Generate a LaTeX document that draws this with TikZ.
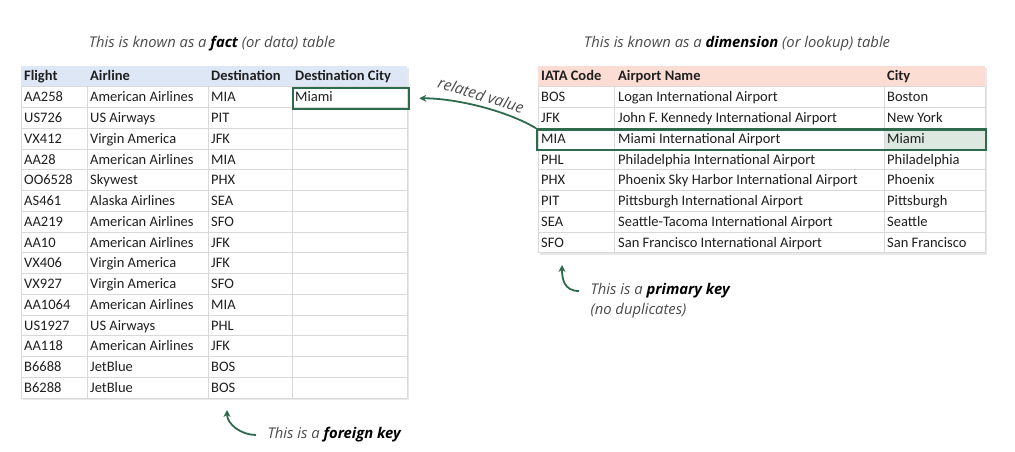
\documentclass[tikz,border=0pt]{standalone}
\usepackage{fontspec}
\setmainfont{Carlito}
\newfontfamily\capfont{Open Sans}
\usetikzlibrary{positioning,calc,shadows,arrows.meta}

\definecolor{keygreen}{HTML}{2E6A4C}
\definecolor{headblue}{HTML}{DDE7F5}
\definecolor{headpink}{HTML}{FBDDD3}
\definecolor{gridgray}{HTML}{D9D9D9}
\definecolor{capgray}{HTML}{4A4A4A}
\definecolor{citygreen}{HTML}{DDE8E1}

\tikzset{
  cell/.style={anchor=base west, inner sep=0pt, font=\fontsize{14.5}{15}\selectfont, text=black!88},
  headcell/.style={cell, font=\fontsize{14.5}{15}\selectfont\bfseries},
  caption/.style={font=\capfont\itshape\fontsize{14.8}{17}\selectfont, text=capgray},
  gridline/.style={draw=gridgray, line width=0.8pt},
  keybox/.style={draw=keygreen, line width=2.3pt, inner sep=0pt, anchor=north west},
  keyarrow/.style={draw=keygreen, line width=1.8pt, -{Stealth[length=7pt,width=7pt]}},
  tableshadow/.style={drop shadow={opacity=0.18, shadow xshift=1.5pt, shadow yshift=-2pt}},
}

\begin{document}
\begin{tikzpicture}[x=1pt,y=-1pt]
  \useasboundingbox (0,0) rectangle (1015,452);

  % fact table
  \node[caption] (factcap) at (212,44) {This is known as a {\color{black}\bfseries fact} (or data) table};

  \fill[white, tableshadow] (21,66) rectangle (407,398);
  \fill[headblue] (21,66) rectangle (407,86.75);
  \foreach \r in {1,...,16}
    \draw[gridline] (21,{66+20.75*\r}) -- (407,{66+20.75*\r});
  \foreach \x in {21,87,208,292,407}
    \draw[gridline] (\x,86.75) -- (\x,398);

  \node[headcell] (fhead-1) at (24,81) {Flight};
  \node[headcell] (fhead-2) at (90,81) {Airline};
  \node[headcell] (fhead-3) at (211,81) {Destination};
  \node[headcell] (fhead-4) at (295,81) {Destination City};

  \foreach \fl/\al/\de [count=\i] in {AA258/American Airlines/MIA, US726/US Airways/PIT,
      VX412/Virgin America/JFK, AA28/American Airlines/MIA, OO6528/Skywest/PHX,
      AS461/Alaska Airlines/SEA, AA219/American Airlines/SFO, AA10/American Airlines/JFK,
      VX406/Virgin America/JFK, VX927/Virgin America/SFO, AA1064/American Airlines/MIA,
      US1927/US Airways/PHL, AA118/American Airlines/JFK, B6688/JetBlue/BOS, B6288/JetBlue/BOS}
  {
    \node[cell] (flight-\i) at (24,{81+20.75*\i}) {\fl};
    \node[cell] (airline-\i) at (90,{81+20.75*\i}) {\al};
    \node[cell] (dest-\i) at (211,{81+20.75*\i}) {\de};
  }
  \node[cell] (destcity-1) at (295,101.75) {Miami};
  \node[keybox, minimum width=116pt, minimum height=20.75pt] (citybox) at (292,86.75) {};

  % dimension table
  \node[caption] (dimcap) at (737,44) {This is known as a {\color{black}\bfseries dimension} (or lookup) table};

  \fill[white, tableshadow] (538,66) rectangle (985,252.75);
  \fill[headpink] (538,66) rectangle (985,86.75);
  \fill[citygreen] (884,128.25) rectangle (985,149);
  \foreach \r in {1,...,9}
    \draw[gridline] (538,{66+20.75*\r}) -- (985,{66+20.75*\r});
  \foreach \x in {538,614,884,985}
    \draw[gridline] (\x,86.75) -- (\x,252.75);

  \node[headcell] (ahead-1) at (541,81) {IATA Code};
  \node[headcell] (ahead-2) at (618,81) {Airport Name};
  \node[headcell] (ahead-3) at (887,81) {City};

  \foreach \co/\ap/\ci [count=\i] in {BOS/Logan International Airport/Boston,
      JFK/John F. Kennedy International Airport/New York,
      MIA/Miami International Airport/Miami,
      PHL/Philadelphia International Airport/Philadelphia,
      PHX/Phoenix Sky Harbor International Airport/Phoenix,
      PIT/Pittsburgh International Airport/Pittsburgh,
      SEA/Seattle-Tacoma International Airport/Seattle,
      SFO/San Francisco International Airport/San Francisco}
  {
    \node[cell] (code-\i) at (541,{81+20.75*\i}) {\co};
    \node[cell] (airport-\i) at (618,{81+20.75*\i}) {\ap};
    \node[cell] (city-\i) at (887,{81+20.75*\i}) {\ci};
  }
  \node[keybox, minimum width=449pt, minimum height=20.75pt] (miarow) at (536,128.25) {};

  % related value
  \node[caption, rotate=-17, inner sep=0pt, font=\capfont\itshape\fontsize{15.5}{17}\selectfont] (relval) at (481,95) {related value};
  \draw[keyarrow, shorten >=9pt] (miarow.north west) .. controls +(-30,-18) and +(45,0) .. (citybox.east);

  % keys
  \node[caption, anchor=west] (pkcap) at (587,291) {This is a {\color{black}\bfseries primary key}};
  \node[caption, anchor=west] (pknote) at (587,311) {(no duplicates)};
  \coordinate (pktip) at (562,265);
  \draw[keyarrow] ([xshift=-8pt]pkcap.west) .. controls +(-15,0) and +(0,14) .. (pktip);

  \node[caption, anchor=west] (fkcap) at (264,435) {This is a {\color{black}\bfseries foreign key}};
  \coordinate (fktip) at (227,410);
  \draw[keyarrow] ([xshift=-8pt]fkcap.west) .. controls +(-15,0) and +(0,14) .. (fktip);
\end{tikzpicture}
\end{document}
